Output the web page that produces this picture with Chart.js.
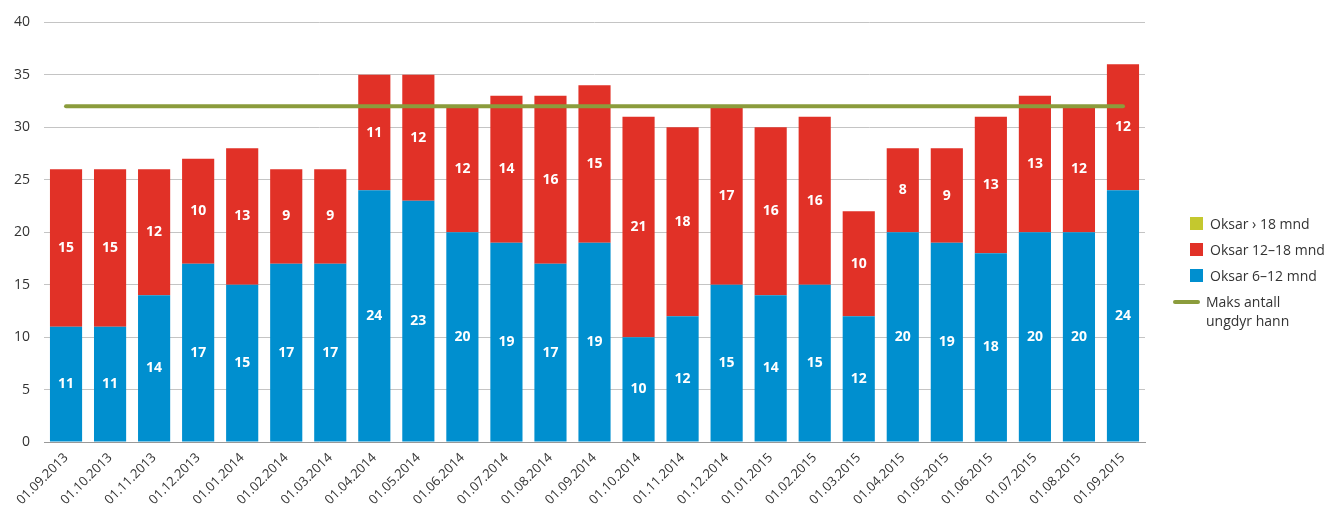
<!DOCTYPE html>
<html>
<head>
<meta charset="utf-8">
<script src="https://cdn.jsdelivr.net/npm/chart.js@4/dist/chart.umd.min.js"></script>
<style>
    html, body { margin: 0; padding: 0; background: #fff; }
    #wrap { position: relative; width: 1331px; height: 513px; }
    #legend { position: absolute; left: 1190px; top: 214px; font-family: "Open Sans", sans-serif; font-size: 14px; color: #333; }
    .item { display: flex; align-items: flex-start; height: 26px; }
    .box { width: 13px; height: 13px; margin: 3px 7px 0 0; }
    .dash { width: 27px; height: 4px; border-radius: 2px; margin: 8px 6px 0 -17px; }
    .txt { line-height: 19px; }
</style>
</head>
<body>
<div id="wrap">
    <canvas id="stockChart" width="1331" height="513"></canvas>
    <div id="legend"></div>
</div>
<script>
const CATEGORIES = [
    '01.09.2013', '01.10.2013', '01.11.2013', '01.12.2013', '01.01.2014', '01.02.2014',
    '01.03.2014', '01.04.2014', '01.05.2014', '01.06.2014', '01.07.2014', '01.08.2014',
    '01.09.2014', '01.10.2014', '01.11.2014', '01.12.2014', '01.01.2015', '01.02.2015',
    '01.03.2015', '01.04.2015', '01.05.2015', '01.06.2015', '01.07.2015', '01.08.2015',
    '01.09.2015'
];
const OKSAR_6_12 = [11, 11, 14, 17, 15, 17, 17, 24, 23, 20, 19, 17, 19, 10, 12, 15, 14, 15, 12, 20, 19, 18, 20, 20, 24];
const OKSAR_12_18 = [15, 15, 12, 10, 13, 9, 9, 11, 12, 12, 14, 16, 15, 21, 18, 17, 16, 16, 10, 8, 9, 13, 13, 12, 12];
const OKSAR_18_PLUS = [0, 0, 0, 0, 0, 0, 0, 0, 0, 0, 0, 0, 0, 0, 0, 0, 0, 0, 0, 0, 0, 0, 0, 0, 0];
const MAKS_ANTALL = CATEGORIES.map(() => 32);
const Y_TICKS = [0, 5, 10, 15, 20, 25, 30, 35, 40];

const COLORS = {
    blue: '#008fcf',
    red: '#e13127',
    lime: '#c4c82e',
    olive: '#8b9c3c'
};

// white numbers inside each bar segment
const segmentLabels = {
    id: 'segmentLabels',
    afterDatasetsDraw(chart) {
        const ctx = chart.ctx;
        ctx.save();
        ctx.fillStyle = '#fff';
        ctx.font = 'bold 14px "Open Sans", sans-serif';
        ctx.textAlign = 'center';
        ctx.textBaseline = 'middle';
        chart.data.datasets.forEach((ds, i) => {
            if (ds.type === 'line') return;
            const meta = chart.getDatasetMeta(i);
            meta.data.forEach((bar, j) => {
                const v = ds.data[j];
                if (!v) return;
                ctx.fillText(String(v), bar.x, (bar.y + bar.base) / 2);
            });
        });
        ctx.restore();
    }
};

const canvas = document.getElementById('stockChart');
new Chart(canvas.getContext('2d'), {
    data: {
        labels: CATEGORIES,
        datasets: [
            {
                type: 'line',
                label: 'Maks antall ungdyr hann',
                data: MAKS_ANTALL,
                stack: 'maks',
                borderColor: COLORS.olive,
                borderWidth: 4,
                borderCapStyle: 'round',
                pointRadius: 0,
                order: 0
            },
            {
                type: 'bar',
                label: 'Oksar 6–12 mnd',
                data: OKSAR_6_12,
                backgroundColor: COLORS.blue,
                stack: 'okse',
                order: 1
            },
            {
                type: 'bar',
                label: 'Oksar 12–18 mnd',
                data: OKSAR_12_18,
                backgroundColor: COLORS.red,
                stack: 'okse',
                order: 1
            },
            {
                type: 'bar',
                label: 'Oksar > 18 mnd',
                data: OKSAR_18_PLUS,
                backgroundColor: COLORS.lime,
                stack: 'okse',
                order: 1
            }
        ]
    },
    options: {
        responsive: false,
        animation: false,
        layout: { padding: { top: 10, right: 186, left: 0, bottom: 5 } },
        datasets: { bar: { barPercentage: 0.73, categoryPercentage: 1 } },
        plugins: { legend: { display: false }, tooltip: { enabled: false } },
        scales: {
            x: {
                stacked: true,
                grid: { display: false },
                border: { display: true, color: '#999', width: 1 },
                ticks: {
                    color: '#333',
                    font: { family: '"Open Sans", sans-serif', size: 13 },
                    maxRotation: 45,
                    minRotation: 45,
                    padding: 0
                }
            },
            y: {
                stacked: true,
                min: 0,
                max: 40,
                afterBuildTicks: axis => { axis.ticks = Y_TICKS.map(v => ({ value: v })); },
                grid: { color: '#c4c4c4', lineWidth: 1, drawTicks: false },
                border: { display: false },
                ticks: {
                    color: '#333',
                    font: { family: '"Open Sans", sans-serif', size: 14 },
                    padding: 14
                }
            }
        }
    },
    plugins: [segmentLabels]
});

// legend drawn beside the plot
const LEGEND_ITEMS = [
    { text: 'Oksar › 18 mnd', color: COLORS.lime, kind: 'box' },
    { text: 'Oksar 12–18 mnd', color: COLORS.red, kind: 'box' },
    { text: 'Oksar 6–12 mnd', color: COLORS.blue, kind: 'box' },
    { text: 'Maks antall<br>ungdyr hann', color: COLORS.olive, kind: 'dash' }
];
const legendEl = document.getElementById('legend');
legendEl.innerHTML = LEGEND_ITEMS.map(it =>
    `<div class="item"><div class="${it.kind}" style="background:${it.color}"></div><div class="txt">${it.text}</div></div>`
).join('');
</script>
</body>
</html>
